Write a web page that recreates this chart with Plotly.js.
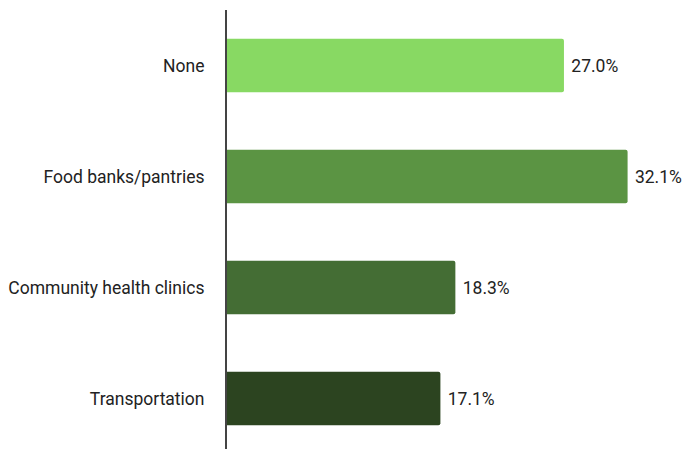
<!DOCTYPE html>
<html>
<head>
<meta charset="utf-8">
<script src="https://cdn.plot.ly/plotly-3.0.1.min.js"></script>
<style>html,body{margin:0;padding:0;background:#fff;}#chart{width:683px;height:449px;}</style>
</head>
<body>
<div id="chart"></div>
<script>
const categories = ["None", "Food banks/pantries", "Community health clinics", "Transportation"];
const values = [27.0, 32.1, 18.3, 17.1];
const labels = ["27.0%", "32.1%", "18.3%", "17.1%"];
const colors = ["#88d963", "#5b9443", "#446d34", "#2c4420"];

const trace = {
  type: "bar",
  orientation: "h",
  y: categories,
  x: values,
  text: labels,
  texttemplate: "\u00a0%{text}",
  textposition: "outside",
  cliponaxis: false,
  textfont: {family: "Roboto, sans-serif", size: 17.5, color: "#222"},
  marker: {color: colors, cornerradius: 2, line: {width: 0}},
  hoverinfo: "none"
};

const layout = {
  width: 683, height: 449,
  margin: {l: 227, r: 0, t: 10, b: 0},
  paper_bgcolor: "#fff", plot_bgcolor: "#fff",
  showlegend: false,
  bargap: 0.52,
  font: {family: "Roboto, sans-serif", size: 17.5, color: "#222"},
  xaxis: {range: [0, 36.54], visible: false, showgrid: false, zeroline: false, fixedrange: true},
  yaxis: {
    type: "category",
    categoryorder: "array", categoryarray: categories,
    range: [3.455, -0.5],
    showline: true, linecolor: "#444", linewidth: 2,
    ticks: "", showgrid: false, zeroline: false,
    ticklabelstandoff: 17,
    tickfont: {family: "Roboto, sans-serif", size: 17.5, color: "#222"}
  }
};

Plotly.newPlot("chart", [trace], layout, {displayModeBar: false, staticPlot: true});
</script>
</body>
</html>
